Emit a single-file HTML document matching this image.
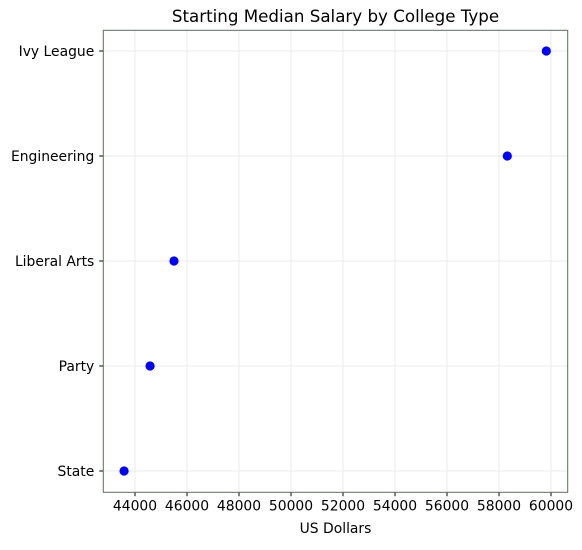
<!DOCTYPE html>
<html><head><meta charset="utf-8"><style>
body{margin:0;background:#fff;font-family:"Liberation Sans","DejaVu Sans",sans-serif;}
svg text{font-family:"DejaVu Sans","Liberation Sans",sans-serif;font-size:13.9px;fill:#000;}
</style></head><body>
<svg id="chart" width="582" height="545" xmlns="http://www.w3.org/2000/svg">
<text x="335.5" y="22" text-anchor="middle" style="font-size:16.7px">Starting Median Salary by College Type</text>
<g id="grid"></g><g id="axes"></g><g id="marks"></g>
<text x="335.5" y="533" text-anchor="middle">US Dollars</text>
</svg>
<script>
const categories = ["State","Party","Liberal Arts","Engineering","Ivy League"];
const salaries = [43580, 44580, 45500, 58320, 59820];
const xTicks = [44000,46000,48000,50000,52000,54000,56000,58000,60000];
const L=103.3,R=567.7,T=30.3,B=492.3;
function xs(v){return 135+(v-44000)/2000*52;}
function ys(i){return 471-i*105;}
const NS="http://www.w3.org/2000/svg";
function mk(parent,tag,attrs){const e=document.createElementNS(NS,tag);for(const k in attrs)e.setAttribute(k,attrs[k]);document.getElementById(parent).appendChild(e);return e;}
xTicks.forEach(t=>{const x=xs(t);
 const g=mk('grid','line',{x1:x,x2:x,y1:T,y2:B,stroke:'#ebebeb','stroke-width':1});
 
 
 const tk=mk('axes','line',{x1:x,x2:x,y1:B,y2:B+4,stroke:'#000'});
 
 
 const tx=mk('axes','text',{x:x,y:B+18,'text-anchor':'middle'});tx.textContent=t;
 
 
});
categories.forEach((c,i)=>{const y=ys(i);
 const g=mk('grid','line',{x1:L,x2:R,y1:y,y2:y,stroke:'#ebebeb','stroke-width':1});
 
 
 const tk=mk('axes','line',{x1:L-4,x2:L,y1:y,y2:y,stroke:'#000'});
 
 
 const tx=mk('axes','text',{x:L-9,y:y+5,'text-anchor':'end'});tx.textContent=c;
 
 
 const p=mk('marks','circle',{cx:xs(salaries[i]),cy:y,r:4.6,fill:'#0000ff'});
 
 
});
const fr=mk('axes','rect',{x:L,y:T,width:R-L,height:B-T,fill:'none',stroke:'#5b6e5b','stroke-width':1});


</script>
</body></html>
